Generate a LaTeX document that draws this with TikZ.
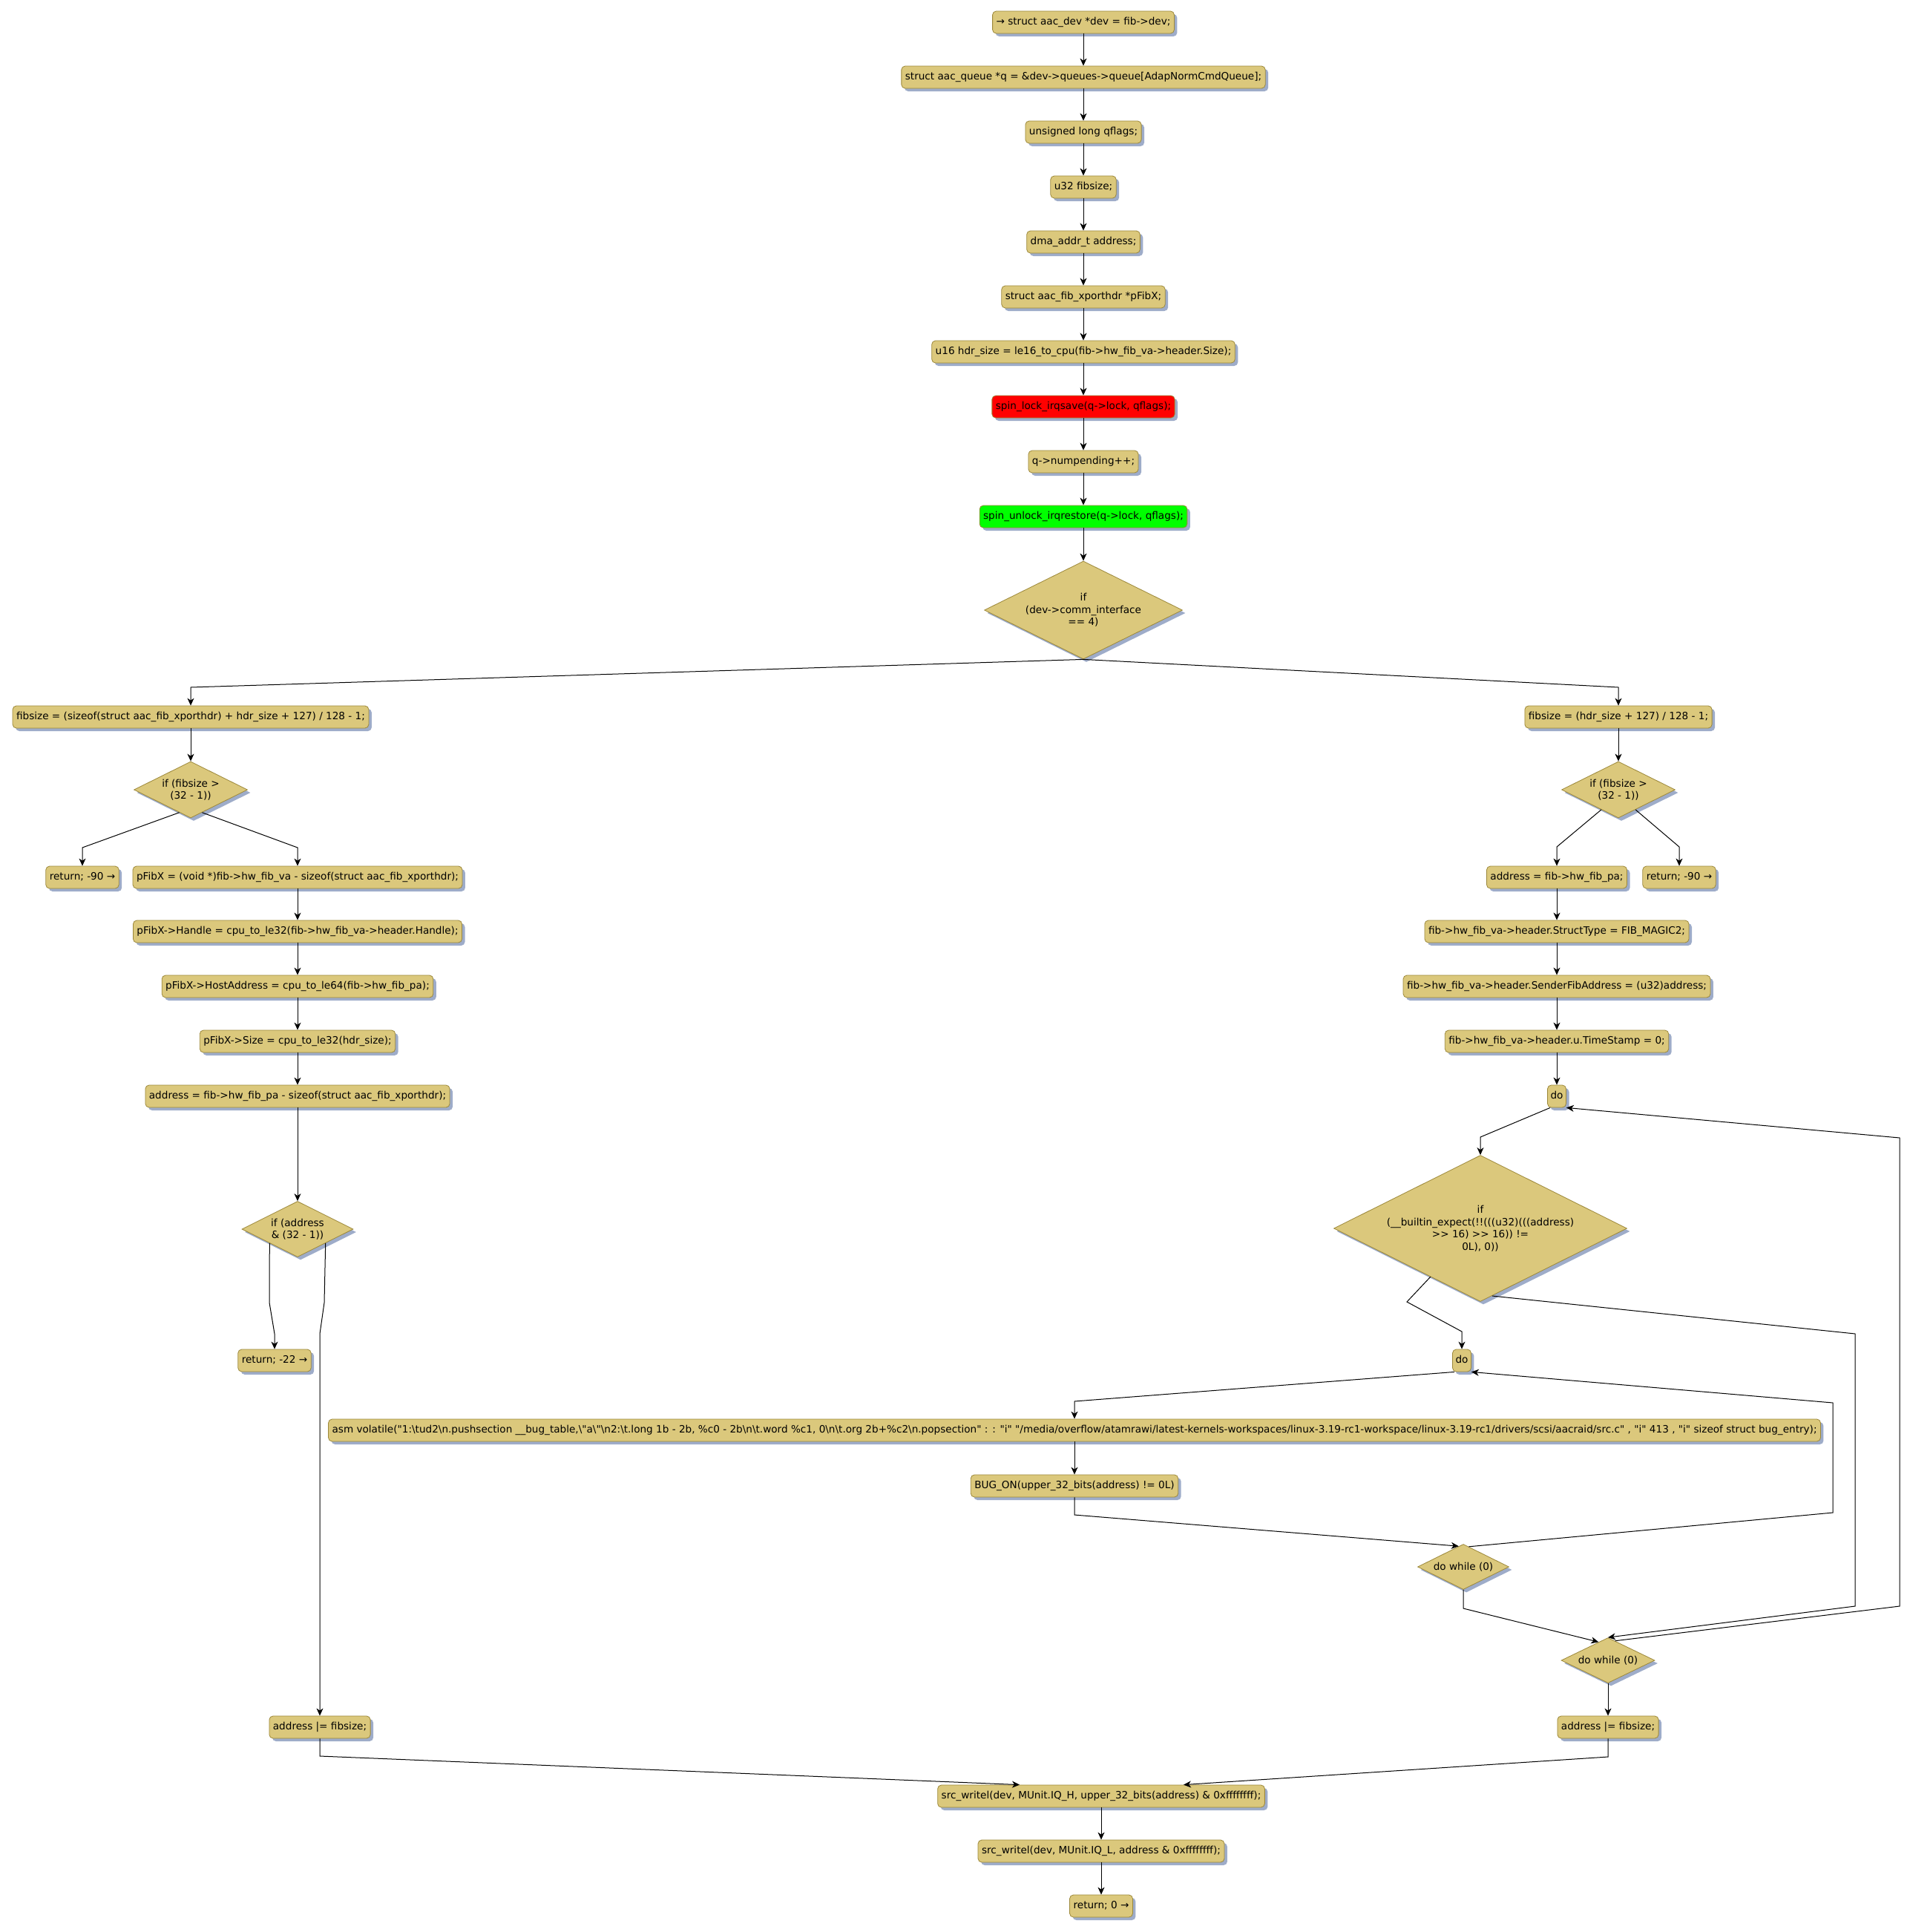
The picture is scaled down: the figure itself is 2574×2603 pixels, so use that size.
\documentclass[tikz,border=0pt]{standalone}
\usepackage{fontspec}
\newfontfamily\dv{DejaVu Sans}
\usetikzlibrary{shapes.geometric,arrows.meta,shadows,calc}
\definecolor{boxfill}{RGB}{219,200,124}
\definecolor{boxdraw}{RGB}{156,136,58}
\definecolor{shadowc}{RGB}{158,172,201}
\definecolor{lockred}{RGB}{255,0,0}
\definecolor{unlockgreen}{RGB}{0,255,0}
\newcommand\bs{\textbackslash}
\begin{document}
\begin{tikzpicture}[x=1pt,y=-1pt,
  font={\dv\fontsize{13.6}{16.5}\selectfont},
  box/.style={draw=boxdraw, fill=boxfill, rounded corners=5pt, minimum height=30pt,
    inner xsep=5pt, inner ysep=0pt, text height=10pt, text depth=3pt, line width=0.8pt,
    drop shadow={shadow xshift=4pt, shadow yshift=-4pt, fill=shadowc, opacity=1}},
  dia/.style={diamond, draw=boxdraw, fill=boxfill, aspect=2, inner sep=0pt, align=center,
    line width=0.8pt,
    drop shadow={shadow xshift=4pt, shadow yshift=-4pt, fill=shadowc, opacity=1}},
  arr/.style={draw, line width=1pt, -{Stealth[length=10pt,width=9pt,inset=3pt]}}]
\useasboundingbox (0,0) rectangle (2574,2603);

% main column
\node[box] (n1) at (1460,30) {→ struct aac\_dev *dev = fib->dev;};
\node[box] (n2) at (1460,104) {struct aac\_queue *q = \&dev->queues->queue[AdapNormCmdQueue];};
\node[box] (n3) at (1460,178) {unsigned long qflags;};
\node[box] (n4) at (1460,252) {u32 fibsize;};
\node[box] (n5) at (1460,326) {dma\_addr\_t address;};
\node[box] (n6) at (1460,400) {struct aac\_fib\_xporthdr *pFibX;};
\node[box] (n7) at (1460,474) {u16 hdr\_size = le16\_to\_cpu(fib->hw\_fib\_va->header.Size);};
\node[box, fill=lockred] (n8) at (1460,548) {spin\_lock\_irqsave(q->lock, qflags);};
\node[box] (n9) at (1460,622) {q->numpending++;};
\node[box, fill=unlockgreen] (n10) at (1460,696) {spin\_unlock\_irqrestore(q->lock, qflags);};
\node[dia, minimum width=267pt, minimum height=132pt] (d1) at (1460,822) {if\\(dev->comm\_interface\\== 4)};

% left branch
\node[box] (l1) at (257,966) {fibsize = (sizeof(struct aac\_fib\_xporthdr) + hdr\_size + 127) / 128 - 1;};
\node[dia, minimum width=153pt, minimum height=76pt] (ld1) at (257,1064) {if (fibsize >\\(32 - 1))};
\node[box] (lret) at (111,1182) {return; -90 →};
\node[box] (l2) at (401,1182) {pFibX = (void *)fib->hw\_fib\_va - sizeof(struct aac\_fib\_xporthdr);};
\node[box] (l3) at (401,1255) {pFibX->Handle = cpu\_to\_le32(fib->hw\_fib\_va->header.Handle);};
\node[box] (l4) at (401,1329) {pFibX->HostAddress = cpu\_to\_le64(fib->hw\_fib\_pa);};
\node[box] (l5) at (401,1403) {pFibX->Size = cpu\_to\_le32(hdr\_size);};
\node[box] (l6) at (401,1477) {address = fib->hw\_fib\_pa - sizeof(struct aac\_fib\_xporthdr);};
\node[dia, minimum width=150pt, minimum height=75pt] (ld2) at (401,1656) {if (address\\\& (32 - 1))};
\node[box] (lret2) at (370,1833) {return; -22 →};
\node[box] (l7) at (431,2327) {address |= fibsize;};

% right branch
\node[box] (r1) at (2181,966) {fibsize = (hdr\_size + 127) / 128 - 1;};
\node[dia, minimum width=153pt, minimum height=76pt] (rd1) at (2181,1064) {if (fibsize >\\(32 - 1))};
\node[box] (r2) at (2098,1182) {address = fib->hw\_fib\_pa;};
\node[box] (rret) at (2263,1182) {return; -90 →};
\node[box] (r3) at (2098,1255) {fib->hw\_fib\_va->header.StructType = FIB\_MAGIC2;};
\node[box] (r4) at (2098,1329) {fib->hw\_fib\_va->header.SenderFibAddress = (u32)address;};
\node[box] (r5) at (2098,1403) {fib->hw\_fib\_va->header.u.TimeStamp = 0;};
\node[box, inner xsep=4pt] (do1) at (2098,1477) {do};
\node[dia, minimum width=395pt, minimum height=197pt] (rd2) at (1995,1655) {if\\(\_\_builtin\_expect(!!(((u32)(((address)\\>> 16) >> 16)) !=\\0L), 0))};
\node[box, inner xsep=4pt] (do2) at (1970,1833) {do};
\node[box] (asm) at (1448,1927) {asm volatile("1:\bs{}tud2\bs{}n.pushsection \_\_bug\_table,\bs{}"a\bs{}"\bs{}n2:\bs{}t.long 1b - 2b, \%c0 - 2b\bs{}n\bs{}t.word \%c1, 0\bs{}n\bs{}t.org 2b+\%c2\bs{}n.popsection" : : "i" "/media/overflow/atamrawi/latest-kernels-workspaces/linux-3.19-rc1-workspace/linux-3.19-rc1/drivers/scsi/aacraid/src.c" , "i" 413 , "i" sizeof struct bug\_entry);};
\node[box] (bug) at (1448,2002) {BUG\_ON(upper\_32\_bits(address) != 0L)};
\node[dia, minimum width=123pt, minimum height=61pt] (rd3) at (1972,2111) {do while (0)};
\node[dia, minimum width=126pt, minimum height=61pt] (rd4) at (2167,2237) {do while (0)};
\node[box] (r6) at (2167,2327) {address |= fibsize;};

% bottom
\node[box] (b1) at (1484,2420) {src\_writel(dev, MUnit.IQ\_H, upper\_32\_bits(address) \& 0xffffffff);};
\node[box] (b2) at (1484,2494) {src\_writel(dev, MUnit.IQ\_L, address \& 0xffffffff);};
\node[box] (b3) at (1484,2568) {return; 0 →};

% connectors: main column
\draw[arr] (n1) -- (n2);
\draw[arr] (n2) -- (n3);
\draw[arr] (n3) -- (n4);
\draw[arr] (n4) -- (n5);
\draw[arr] (n5) -- (n6);
\draw[arr] (n6) -- (n7);
\draw[arr] (n7) -- (n8);
\draw[arr] (n8) -- (n9);
\draw[arr] (n9) -- (n10);
\draw[arr] (n10) -- (d1);
\draw[arr] (d1.south) -- (257,926) -- (l1.north);
\draw[arr] (d1.south) -- (2181,926) -- (r1.north);

% left
\draw[arr] (l1) -- (ld1);
\draw[arr] ($(ld1.south)!0.2!(ld1.west)$) -- (111,1142) -- (lret.north);
\draw[arr] ($(ld1.south)!0.2!(ld1.east)$) -- (401,1142) -- (l2.north);
\draw[arr] (l2) -- (l3);
\draw[arr] (l3) -- (l4);
\draw[arr] (l4) -- (l5);
\draw[arr] (l5) -- (l6);
\draw[arr] (l6) -- (ld2);
\draw[arr] ($(ld2.south)!0.5!(ld2.west)$) -- (363,1755) -- (370,1797) -- (lret2.north);
\draw[arr] ($(ld2.south)!0.5!(ld2.east)$) -- (437,1755) -- (431,1797) -- (l7.north);
\draw[arr] (l7.south) -- (431,2366) -- ([xshift=-110pt]b1.north);

% right
\draw[arr] (r1) -- (rd1);
\draw[arr] ($(rd1.south)!0.3!(rd1.west)$) -- (2098,1141) -- (r2.north);
\draw[arr] ($(rd1.south)!0.3!(rd1.east)$) -- (2263,1141) -- (rret.north);
\draw[arr] (r2) -- (r3);
\draw[arr] (r3) -- (r4);
\draw[arr] (r4) -- (r5);
\draw[arr] (r5) -- (do1);
\draw[arr] ([xshift=4pt]do1.south west) -- (1995,1532) -- (rd2.north);
\draw[arr] ($(rd2.south)!0.34!(rd2.west)$) -- (1896,1754) -- (1970,1794) -- (do2.north);
\draw[arr] ($(rd2.south)!0.08!(rd2.east)$) -- (2500,1797) -- (2500,2164) -- (rd4.north);
\draw[arr] ($(rd4.north)!0.15!(rd4.east)$) -- (2560,2164) -- (2560,1533) -- (do1.south east);
\draw[arr] ([xshift=3pt]do2.south west) -- (1448,1888) -- (asm.north);
\draw[arr] (asm) -- (bug);
\draw[arr] (bug.south) -- (1448,2041) -- ($(rd3.north)!0.1!(rd3.west)$);
\draw[arr] ($(rd3.north)!0.12!(rd3.east)$) -- (2470,2038) -- (2470,1890) -- (do2.south east);
\draw[arr] (rd3.south) -- (1972,2167) -- ($(rd4.north)!0.2!(rd4.west)$);
\draw[arr] (rd4) -- (r6);
\draw[arr] (r6.south) -- (2167,2367) -- ([xshift=111pt]b1.north);

% bottom
\draw[arr] (b1) -- (b2);
\draw[arr] (b2) -- (b3);
\end{tikzpicture}
\end{document}
